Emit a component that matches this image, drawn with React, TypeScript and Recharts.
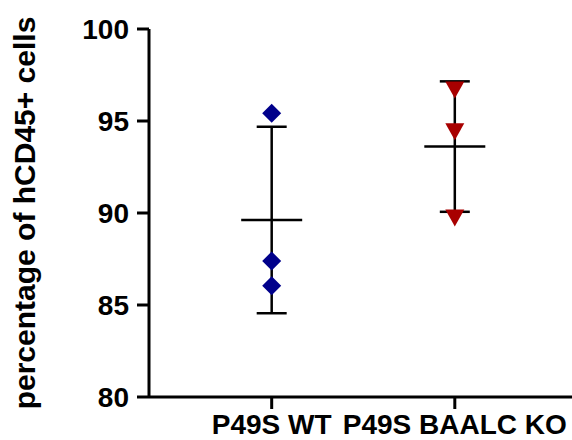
import React from 'react';
import { ScatterChart, Scatter, XAxis, YAxis, ErrorBar } from 'recharts';

const categories = ['P49S WT', 'P49S BAALC KO'];
const wtValues = [95.42, 87.39, 86.05];
const koValues = [96.68, 94.42, 89.73];
const yTicks = [80, 85, 90, 95, 100];

const FONT = '"Liberation Sans", Arial, sans-serif';

function meanSd(values: number[]) {
  const m = values.reduce((a, b) => a + b, 0) / values.length;
  const v = values.reduce((a, b) => a + (b - m) * (b - m), 0) / (values.length - 1);
  return { mean: m, sd: Math.sqrt(v) };
}

const wtPoints = wtValues.map((v) => ({ x: 1, y: v }));
const koPoints = koValues.map((v) => ({ x: 2, y: v }));
const summary = [wtValues, koValues].map((vals, i) => {
  const s = meanSd(vals);
  return { x: i + 1, y: s.mean, sd: s.sd };
});

const Diamond = (props: any) => {
  const { cx, cy } = props;
  const r = 9.5;
  return (
    <polygon
      points={`${cx},${cy - r} ${cx + r},${cy} ${cx},${cy + r} ${cx - r},${cy}`}
      fill="#00008B"
    />
  );
};

const TriangleDown = (props: any) => {
  const { cx, cy } = props;
  return (
    <polygon
      points={`${cx - 9.5},${cy - 8.5} ${cx + 9.5},${cy - 8.5} ${cx},${cy + 8.5}`}
      fill="#A80000"
    />
  );
};

const MeanLine = (props: any) => {
  const { cx, cy } = props;
  return <line x1={cx - 30.5} x2={cx + 30.5} y1={cy} y2={cy} stroke="#000" strokeWidth={2.5} />;
};

export default function App() {
  const tickStyle = { fontFamily: FONT, fontWeight: 700, fontSize: 28, fill: '#000' };
  return (
    <div style={{ position: 'absolute', left: 0, top: 0, width: 572, height: 440, background: '#fff' }}>
      <ScatterChart width={572} height={440} margin={{ top: 29, right: 0, bottom: 0, left: 0 }}>
        <XAxis
          type="number"
          dataKey="x"
          domain={[0.33, 2.64]}
          allowDataOverflow
          ticks={[1, 2]}
          tickFormatter={(v: number) => categories[v - 1]}
          height={43}
          tickSize={12}
          tickMargin={5}
          axisLine={{ stroke: '#000', strokeWidth: 3 }}
          tickLine={{ stroke: '#000', strokeWidth: 3 }}
          tick={tickStyle}
          interval={0}
        />
        <YAxis
          type="number"
          dataKey="y"
          domain={[80, 100]}
          allowDataOverflow
          ticks={yTicks}
          width={149}
          tickSize={12}
          tickMargin={8}
          axisLine={{ stroke: '#000', strokeWidth: 3 }}
          tickLine={{ stroke: '#000', strokeWidth: 3 }}
          tick={tickStyle}
          interval={0}
          label={{
            value: 'percentage of hCD45+ cells',
            angle: -90,
            position: 'insideLeft',
            offset: 24,
            style: { textAnchor: 'middle', fontFamily: FONT, fontWeight: 700, fontSize: 30, fill: '#000' },
          }}
        />
        <Scatter data={summary} shape={<MeanLine />} isAnimationActive={false}>
          <ErrorBar dataKey="sd" direction="y" width={15} stroke="#000" strokeWidth={2.5} />
        </Scatter>
        <Scatter data={wtPoints} shape={<Diamond />} isAnimationActive={false} />
        <Scatter data={koPoints} shape={<TriangleDown />} isAnimationActive={false} />
      </ScatterChart>
    </div>
  );
}
